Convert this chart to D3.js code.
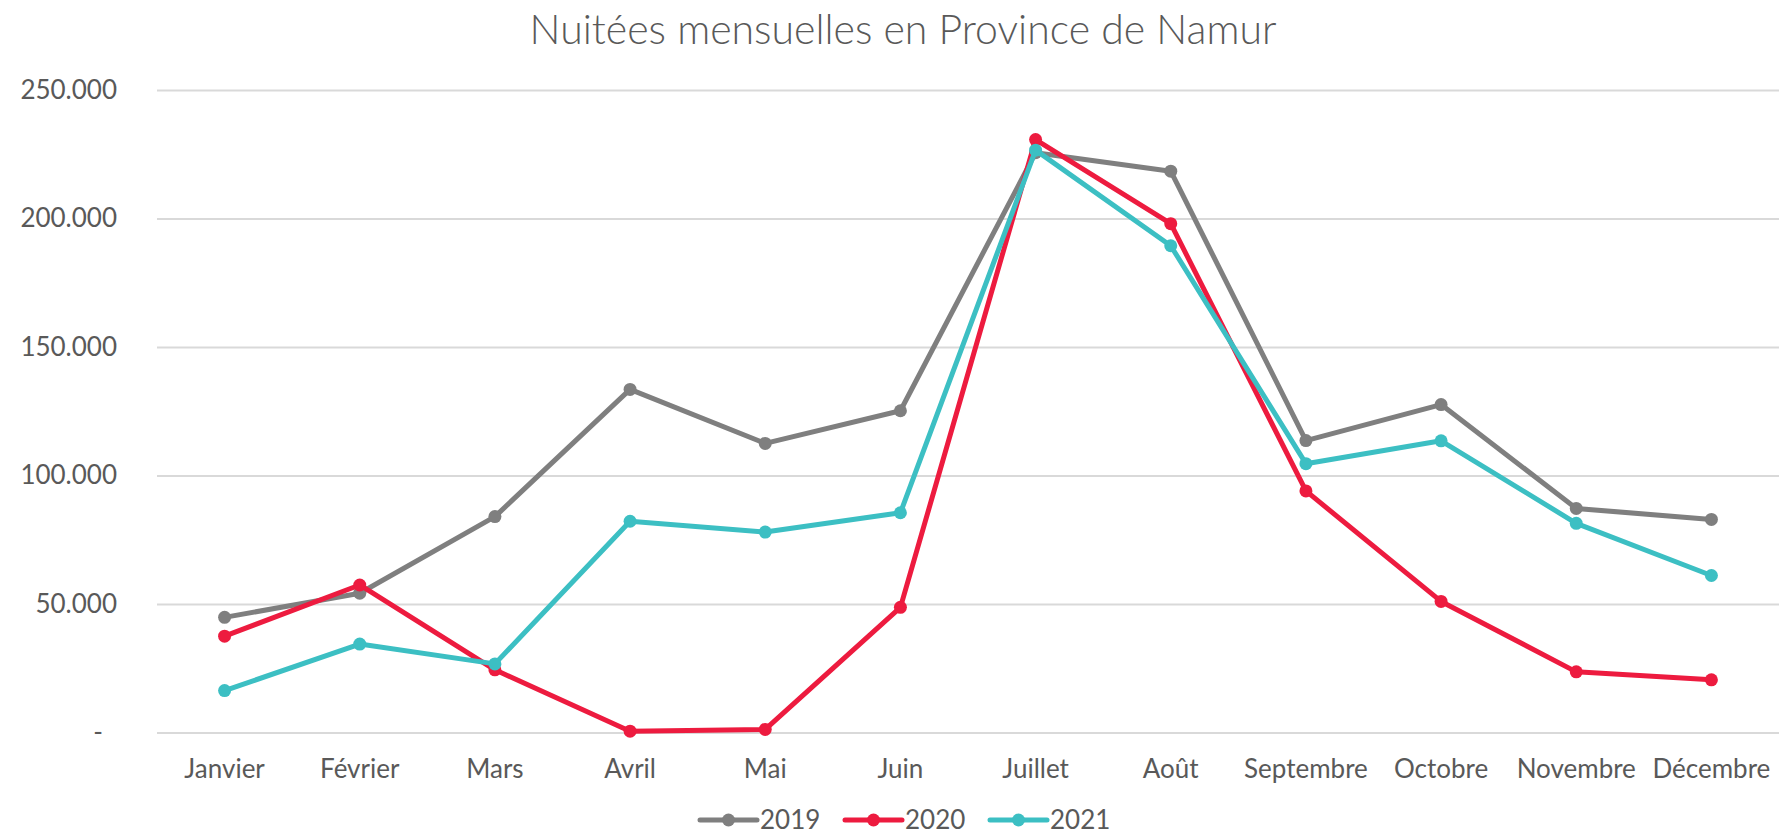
<!DOCTYPE html>
<html>
<head>
<meta charset="utf-8">
<script src="https://cdn.jsdelivr.net/npm/d3@7"></script>
<style>
  html, body { margin: 0; padding: 0; background: #fff; }
  svg { display: block; }
  text { font-family: Lato, "Open Sans", sans-serif; }
</style>
</head>
<body>
<svg id="chart" width="1780" height="836"></svg>
<script>
const title = "Nuitées mensuelles en Province de Namur";
const months = ["Janvier", "Février", "Mars", "Avril", "Mai", "Juin", "Juillet", "Août", "Septembre", "Octobre", "Novembre", "Décembre"];
const seriesNames = ["2019", "2020", "2021"];
const values2019 = [44800, 54200, 84000, 133500, 112500, 125200, 225600, 218400, 113600, 127600, 87200, 82900];
const values2020 = [37500, 57400, 24400, 500, 1200, 48700, 230700, 198000, 94000, 51000, 23600, 20500];
const values2021 = [16300, 34400, 26700, 82200, 78000, 85500, 226600, 189400, 104600, 113500, 81400, 61100];
const yTicks = [0, 50000, 100000, 150000, 200000, 250000];
const colors = ["#7f7f7f", "#ed1b3f", "#3cbfc3"];

const series = [values2019, values2020, values2021].map((v, i) => ({ name: seriesNames[i], values: v, color: colors[i] }));

const svg = d3.select("#chart");
const plot = { left: 157, right: 1779, top: 90, bottom: 732.5 };

const x = d3.scaleBand().domain(months).range([plot.left, plot.right]).padding(0);
const y = d3.scaleLinear().domain([0, 250000]).range([plot.bottom, plot.top]);

// title
svg.append("text")
  .attr("x", 903).attr("y", 44)
  .attr("text-anchor", "middle")
  .attr("font-size", 41).attr("font-weight", 300)
  .attr("fill", "#595959")
  .text(title);

// gridlines + y labels
const fmt = d => d === 0 ? "-" : d3.format(",")(d).replace(/,/g, ".");
const yAxis = svg.append("g")
  .attr("transform", `translate(${plot.left},0)`)
  .call(d3.axisLeft(y).tickValues(yTicks).tickSize(-(plot.right - plot.left)).tickPadding(40).tickFormat(fmt));
yAxis.select(".domain").remove();
yAxis.selectAll(".tick line").attr("stroke", "#d9d9d9").attr("stroke-width", 2);
yAxis.selectAll(".tick text")
  .attr("fill", "#595959").attr("font-size", 26)
  .attr("font-family", "Lato, sans-serif")
  .attr("dx", d => d === 0 ? -14 : 0);

// x axis labels
const xAxis = svg.append("g")
  .attr("transform", `translate(0,${plot.bottom})`)
  .call(d3.axisBottom(x).tickSize(0).tickPadding(0));
xAxis.select(".domain").remove();
xAxis.selectAll(".tick text")
  .attr("fill", "#595959").attr("font-size", 26)
  .attr("font-family", "Lato, sans-serif")
  .attr("dy", null).attr("y", 45);

// lines
const line = d3.line()
  .x((d, i) => x(months[i]) + x.bandwidth() / 2)
  .y(d => y(d));

series.forEach(s => {
  const g = svg.append("g");
  g.append("path")
    .datum(s.values)
    .attr("d", line)
    .attr("fill", "none")
    .attr("stroke", s.color)
    .attr("stroke-width", 5)
    .attr("stroke-linejoin", "round")
    .attr("stroke-linecap", "round");
  g.selectAll("circle")
    .data(s.values)
    .join("circle")
    .attr("cx", (d, i) => x(months[i]) + x.bandwidth() / 2)
    .attr("cy", d => y(d))
    .attr("r", 6.5)
    .attr("fill", s.color);
});

// legend
const legendStarts = [700, 845, 990];
const legend = svg.append("g");
series.forEach((s, i) => {
  const lg = legend.append("g").attr("transform", `translate(${legendStarts[i]},820)`);
  lg.append("line").attr("x1", 0).attr("x2", 57).attr("y1", 0).attr("y2", 0)
    .attr("stroke", s.color).attr("stroke-width", 5).attr("stroke-linecap", "round");
  lg.append("circle").attr("cx", 28.5).attr("cy", 0).attr("r", 6.5).attr("fill", s.color);
  lg.append("text").attr("x", 60).attr("y", 9)
    .attr("font-size", 26).attr("fill", "#595959")
    .text(s.name);
});
</script>
</body>
</html>
